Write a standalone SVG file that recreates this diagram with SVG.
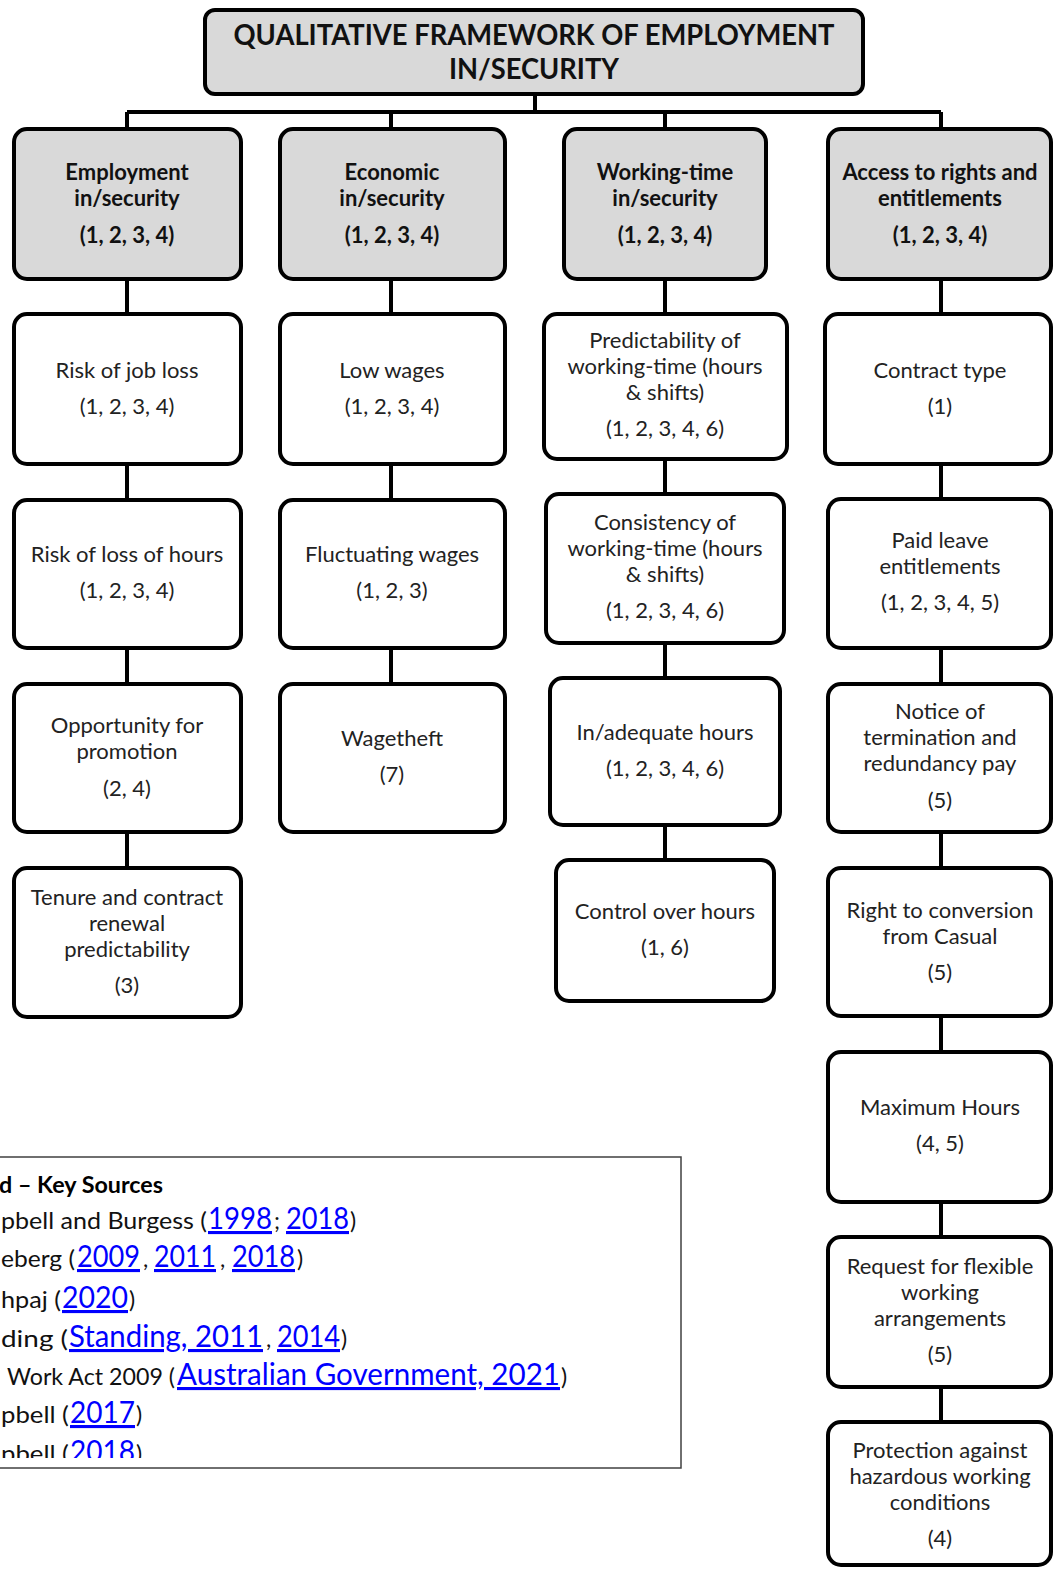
<svg xmlns="http://www.w3.org/2000/svg" width="1053" height="1569" viewBox="0 0 1053 1569">
<style>
.box{fill:#fff;stroke:#000;stroke-width:4}
.hbox{fill:#d9d9d9;stroke:#000;stroke-width:4}
.conn{fill:none;stroke:#000;stroke-width:4}
text{font-family:Lato,"Liberation Sans",sans-serif}
.t{font-size:22px;fill:#222;text-anchor:middle}
.h{font-size:22px;font-weight:bold;fill:#111;text-anchor:middle}
.title{font-size:28px;font-weight:bold;fill:#111;text-anchor:middle}
.lg{font-size:23px;fill:#111}
.lgb{font-size:23px;font-weight:bold;fill:#000}
.lk{font-size:31px;fill:#0000ff;text-decoration:underline}
</style>
<defs>
<clipPath id="lgclip"><rect x="0" y="1158" width="680" height="300"/></clipPath>
</defs>

<g id="connectors">
<path class="conn" d="M535 95V112M127 112H941M127 112V130M391 112V130M665 112V130M941 112V130"/>
<path class="conn" d="M127 279V867M391 279V683M665 279V859M941 279V1422"/>
</g>

<g id="title">
<rect class="hbox" x="205" y="10" width="658" height="84" rx="10"/>
<text class="title" x="534" y="45" textLength="601" lengthAdjust="spacingAndGlyphs">QUALITATIVE FRAMEWORK OF EMPLOYMENT</text>
<text class="title" x="534" y="79" textLength="170" lengthAdjust="spacingAndGlyphs">IN/SECURITY</text>
</g>

<g id="h1">
<rect class="hbox" x="14" y="129" width="227" height="150" rx="13"/>
<text class="h" x="127" y="180">Employment</text>
<text class="h" x="127" y="206">in/security</text>
<text class="h" x="127" y="243">(1, 2, 3, 4)</text>
</g>
<g id="h2">
<rect class="hbox" x="280" y="129" width="225" height="150" rx="13"/>
<text class="h" x="392" y="180">Economic</text>
<text class="h" x="392" y="206">in/security</text>
<text class="h" x="392" y="243">(1, 2, 3, 4)</text>
</g>
<g id="h3">
<rect class="hbox" x="564" y="129" width="202" height="150" rx="13"/>
<text class="h" x="665" y="180">Working-time</text>
<text class="h" x="665" y="206">in/security</text>
<text class="h" x="665" y="243">(1, 2, 3, 4)</text>
</g>
<g id="h4">
<rect class="hbox" x="828" y="129" width="223" height="150" rx="13"/>
<text class="h" x="940" y="180">Access to rights and</text>
<text class="h" x="940" y="206">entitlements</text>
<text class="h" x="940" y="243">(1, 2, 3, 4)</text>
</g>

<g id="n-job-loss">
<rect class="box" x="14" y="314" width="227" height="150" rx="13"/>
<text class="t" x="127" y="378">Risk of job loss</text>
<text class="t" x="127" y="414">(1, 2, 3, 4)</text>
</g>
<g id="n-loss-hours">
<rect class="box" x="14" y="500" width="227" height="148" rx="13"/>
<text class="t" x="127" y="562">Risk of loss of hours</text>
<text class="t" x="127" y="598">(1, 2, 3, 4)</text>
</g>
<g id="n-promotion">
<rect class="box" x="14" y="684" width="227" height="148" rx="13"/>
<text class="t" x="127" y="733">Opportunity for</text>
<text class="t" x="127" y="759">promotion</text>
<text class="t" x="127" y="796">(2, 4)</text>
</g>
<g id="n-tenure">
<rect class="box" x="14" y="868" width="227" height="149" rx="13"/>
<text class="t" x="127" y="905">Tenure and contract</text>
<text class="t" x="127" y="931">renewal</text>
<text class="t" x="127" y="957">predictability</text>
<text class="t" x="127" y="993">(3)</text>
</g>

<g id="n-low-wages">
<rect class="box" x="280" y="314" width="225" height="150" rx="13"/>
<text class="t" x="392" y="378">Low wages</text>
<text class="t" x="392" y="414">(1, 2, 3, 4)</text>
</g>
<g id="n-fluct-wages">
<rect class="box" x="280" y="500" width="225" height="148" rx="13"/>
<text class="t" x="392" y="562">Fluctuating wages</text>
<text class="t" x="392" y="598">(1, 2, 3)</text>
</g>
<g id="n-wagetheft">
<rect class="box" x="280" y="684" width="225" height="148" rx="13"/>
<text class="t" x="392" y="746">Wagetheft</text>
<text class="t" x="392" y="782">(7)</text>
</g>

<g id="n-predictability">
<rect class="box" x="544" y="314" width="243" height="145" rx="13"/>
<text class="t" x="665" y="348">Predictability of</text>
<text class="t" x="665" y="374">working-time (hours</text>
<text class="t" x="665" y="400">&amp; shifts)</text>
<text class="t" x="665" y="436">(1, 2, 3, 4, 6)</text>
</g>
<g id="n-consistency">
<rect class="box" x="546" y="494" width="238" height="149" rx="13"/>
<text class="t" x="665" y="530">Consistency of</text>
<text class="t" x="665" y="556">working-time (hours</text>
<text class="t" x="665" y="582">&amp; shifts)</text>
<text class="t" x="665" y="618">(1, 2, 3, 4, 6)</text>
</g>
<g id="n-inadequate">
<rect class="box" x="550" y="678" width="230" height="147" rx="13"/>
<text class="t" x="665" y="740">In/adequate hours</text>
<text class="t" x="665" y="776">(1, 2, 3, 4, 6)</text>
</g>
<g id="n-control">
<rect class="box" x="556" y="860" width="218" height="141" rx="13"/>
<text class="t" x="665" y="919">Control over hours</text>
<text class="t" x="665" y="955">(1, 6)</text>
</g>

<g id="n-contract">
<rect class="box" x="825" y="314" width="226" height="150" rx="13"/>
<text class="t" x="940" y="378">Contract type</text>
<text class="t" x="940" y="414">(1)</text>
</g>
<g id="n-paid-leave">
<rect class="box" x="828" y="499" width="223" height="149" rx="13"/>
<text class="t" x="940" y="548">Paid leave</text>
<text class="t" x="940" y="574">entitlements</text>
<text class="t" x="940" y="610">(1, 2, 3, 4, 5)</text>
</g>
<g id="n-notice">
<rect class="box" x="828" y="684" width="223" height="148" rx="13"/>
<text class="t" x="940" y="719">Notice of</text>
<text class="t" x="940" y="745">termination and</text>
<text class="t" x="940" y="771">redundancy pay</text>
<text class="t" x="940" y="808">(5)</text>
</g>
<g id="n-conversion">
<rect class="box" x="828" y="868" width="223" height="148" rx="13"/>
<text class="t" x="940" y="918">Right to conversion</text>
<text class="t" x="940" y="944">from Casual</text>
<text class="t" x="940" y="980">(5)</text>
</g>
<g id="n-max-hours">
<rect class="box" x="828" y="1052" width="223" height="150" rx="13"/>
<text class="t" x="940" y="1115">Maximum Hours</text>
<text class="t" x="940" y="1151">(4, 5)</text>
</g>
<g id="n-flexible">
<rect class="box" x="828" y="1237" width="223" height="150" rx="13"/>
<text class="t" x="940" y="1274">Request for flexible</text>
<text class="t" x="940" y="1300">working</text>
<text class="t" x="940" y="1326">arrangements</text>
<text class="t" x="940" y="1362">(5)</text>
</g>
<g id="n-hazard">
<rect class="box" x="828" y="1422" width="223" height="143" rx="13"/>
<text class="t" x="940" y="1458">Protection against</text>
<text class="t" x="940" y="1484">hazardous working</text>
<text class="t" x="940" y="1510">conditions</text>
<text class="t" x="940" y="1546">(4)</text>
</g>

<g id="legend">
<rect x="-2" y="1157" width="683" height="311" fill="#fff" stroke="#404040" stroke-width="1.5"/>
<g clip-path="url(#lgclip)">
<text class="lgb" x="-1" y="1193" textLength="164" lengthAdjust="spacingAndGlyphs">d – Key Sources</text>

<text class="lg" y="1229"><tspan x="1" textLength="206" lengthAdjust="spacingAndGlyphs">pbell and Burgess (</tspan><tspan class="lk" x="208" textLength="64" lengthAdjust="spacingAndGlyphs">1998</tspan><tspan x="274">;</tspan><tspan class="lk" x="286" textLength="63" lengthAdjust="spacingAndGlyphs">2018</tspan><tspan x="350">)</tspan></text>

<text class="lg" y="1267"><tspan x="1" textLength="74" lengthAdjust="spacingAndGlyphs">eberg  (</tspan><tspan class="lk" x="77" textLength="63" lengthAdjust="spacingAndGlyphs">2009</tspan><tspan x="143">,</tspan><tspan class="lk" x="154" textLength="62" lengthAdjust="spacingAndGlyphs">2011</tspan><tspan x="220">,</tspan><tspan class="lk" x="232" textLength="63" lengthAdjust="spacingAndGlyphs">2018</tspan><tspan x="297">)</tspan></text>

<text class="lg" y="1308"><tspan x="1" textLength="60" lengthAdjust="spacingAndGlyphs">hpaj (</tspan><tspan class="lk" x="62" textLength="66" lengthAdjust="spacingAndGlyphs">2020</tspan><tspan x="129">)</tspan></text>

<text class="lg" y="1347"><tspan x="1" textLength="67" lengthAdjust="spacingAndGlyphs">ding  (</tspan><tspan class="lk" x="69" textLength="194" lengthAdjust="spacingAndGlyphs">Standing, 2011</tspan><tspan x="266">,</tspan><tspan class="lk" x="277" textLength="63" lengthAdjust="spacingAndGlyphs">2014</tspan><tspan x="341">)</tspan></text>

<text class="lg" y="1385"><tspan x="7" textLength="168" lengthAdjust="spacingAndGlyphs">Work Act 2009 (</tspan><tspan class="lk" x="177" textLength="383" lengthAdjust="spacingAndGlyphs">Australian Government, 2021</tspan><tspan x="561">)</tspan></text>

<text class="lg" y="1423"><tspan x="1" textLength="68" lengthAdjust="spacingAndGlyphs">pbell (</tspan><tspan class="lk" x="70" textLength="65" lengthAdjust="spacingAndGlyphs">2017</tspan><tspan x="136">)</tspan></text>

<text class="lg" y="1462"><tspan x="1" textLength="68" lengthAdjust="spacingAndGlyphs">pbell (</tspan><tspan class="lk" x="70" textLength="65" lengthAdjust="spacingAndGlyphs">2018</tspan><tspan x="136">)</tspan></text>
</g>
</g>
</svg>
